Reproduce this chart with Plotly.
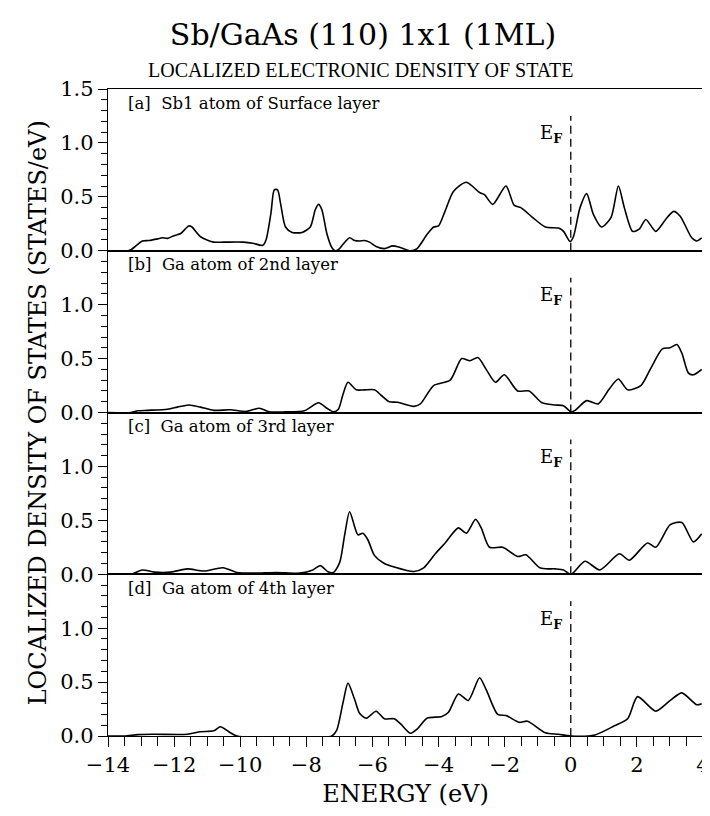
import plotly.graph_objects as go
from plotly.subplots import make_subplots

# ---------------- data ----------------
energy_a = [-14.0, -13.4, -13.3, -12.96, -12.76, -12.5, -12.36, -12.2, -12.0, -11.8, -11.56, -11.46,
            -11.2, -10.8, -10.5, -9.9, -9.62, -9.32, -9.22, -9.07, -8.97, -8.87, -8.78, -8.63,
            -8.43, -8.13, -7.88, -7.73, -7.63, -7.53, -7.38, -7.23, -7.13, -7.03, -6.89, -6.69,
            -6.54, -6.39, -6.24, -6.09, -5.89, -5.64, -5.39, -5.2, -4.85, -4.65, -4.35, -4.15,
            -4.0, -3.8, -3.55, -3.16, -2.76, -2.61, -2.36, -1.96, -1.71, -1.51, -1.16, -0.77,
            -0.37, -0.22, -0.02, 0.08, 0.28, 0.48, 0.68, 0.93, 1.22, 1.44, 1.62, 1.87, 2.07,
            2.27, 2.57, 2.87, 3.11, 3.31, 3.66, 3.81, 3.96]
dos_a = [0.0, 0.0, 0.01, 0.09, 0.095, 0.11, 0.12, 0.115, 0.14, 0.16, 0.23, 0.22,
         0.13, 0.08, 0.08, 0.08, 0.07, 0.05, 0.1, 0.35, 0.565, 0.565, 0.44, 0.22,
         0.17, 0.17, 0.22, 0.38, 0.43, 0.38, 0.16, 0.03, 0.0, 0.01, 0.06, 0.12,
         0.095, 0.09, 0.095, 0.08, 0.04, 0.02, 0.045, 0.035, 0.0, 0.02, 0.15, 0.22,
         0.23, 0.37, 0.55, 0.635, 0.54, 0.52, 0.43, 0.6, 0.42, 0.40, 0.31, 0.22,
         0.21, 0.18, 0.086, 0.13, 0.40, 0.53, 0.34, 0.22, 0.31, 0.60, 0.40, 0.18, 0.2,
         0.29, 0.18, 0.29, 0.365, 0.32, 0.12, 0.09, 0.12]

energy_b = [-14.0, -13.3, -13.1, -12.8, -12.2, -11.9, -11.56, -11.2, -10.8, -10.3, -9.82, -9.42,
            -9.13, -8.63, -8.06, -7.63, -7.38, -7.18, -7.03, -6.89, -6.74, -6.49, -6.24, -5.94,
            -5.74, -5.49, -5.24, -4.75, -4.55, -4.15, -3.65, -3.3, -3.05, -2.81, -2.56, -2.28,
            -2.01, -1.61, -1.26, -0.87, -0.47, -0.22, 0.01, 0.13, 0.48, 0.83, 1.17, 1.44,
            1.72, 2.12, 2.42, 2.77, 3.0, 3.21, 3.36, 3.56, 3.71, 3.96]
dos_b = [0.0, 0.0, 0.016, 0.02, 0.03, 0.05, 0.07, 0.05, 0.02, 0.025, 0.01, 0.04,
         0.006, 0.006, 0.016, 0.09, 0.04, 0.006, 0.03, 0.17, 0.28, 0.21, 0.21, 0.21,
         0.16, 0.10, 0.095, 0.057, 0.08, 0.25, 0.30, 0.50, 0.48, 0.51, 0.40, 0.28,
         0.35, 0.20, 0.20, 0.09, 0.07, 0.063, 0.006, 0.02, 0.11, 0.08, 0.22, 0.31,
         0.21, 0.25, 0.41, 0.59, 0.60, 0.63, 0.55, 0.365, 0.35, 0.40]

energy_c = [-14.0, -13.3, -12.96, -12.6, -12.1, -11.6, -11.1, -10.52, -10.1, -9.6, -8.9, -8.2,
            -7.8, -7.58, -7.33, -7.18, -6.99, -6.84, -6.69, -6.44, -6.29, -6.14, -5.94, -5.64,
            -5.34, -4.75, -4.45, -4.1, -3.8, -3.4, -3.16, -2.88, -2.71, -2.46, -2.06, -1.61,
            -1.36, -0.92, -0.47, -0.22, 0.01, 0.43, 0.88, 1.47, 1.77, 2.32, 2.57, 3.01,
            3.36, 3.71, 3.96]
dos_c = [0.0, 0.0, 0.04, 0.02, 0.02, 0.05, 0.03, 0.06, 0.016, 0.01, 0.016, 0.01,
         0.04, 0.08, 0.02, 0.016, 0.11, 0.365, 0.58, 0.365, 0.38, 0.32, 0.175, 0.10,
         0.067, 0.025, 0.06, 0.19, 0.29, 0.43, 0.38, 0.51, 0.43, 0.25, 0.25, 0.165,
         0.18, 0.057, 0.05, 0.04, 0.0, 0.12, 0.04, 0.19, 0.13, 0.29, 0.25, 0.46,
         0.48, 0.30, 0.375]

energy_d = [-14.0, -13.5, -13.1, -12.6, -11.6, -11.2, -10.8, -10.6, -10.3, -10.1, -7.23, -7.08,
            -6.89, -6.74, -6.54, -6.39, -6.19, -5.89, -5.64, -5.34, -5.14, -4.85, -4.65, -4.35,
            -3.9, -3.7, -3.4, -3.1, -2.76, -2.56, -2.21, -1.96, -1.56, -1.31, -0.77, -0.37,
            0.01, 0.73, 1.32, 1.72, 2.02, 2.57, 3.01, 3.36, 3.81, 3.96]
dos_d = [0.0, 0.0, 0.013, 0.016, 0.016, 0.04, 0.048, 0.086, 0.03, 0.0, 0.0, 0.054,
         0.31, 0.49, 0.34, 0.21, 0.165, 0.23, 0.16, 0.16, 0.11, 0.025, 0.063, 0.165,
         0.18, 0.22, 0.39, 0.33, 0.54, 0.43, 0.20, 0.19, 0.127, 0.137, 0.03, 0.016,
         0.0, 0.01, 0.095, 0.16, 0.365, 0.23, 0.33, 0.40, 0.29, 0.30]

panel_labels = ["[a]  Sb1 atom of Surface layer",
                "[b]  Ga atom of 2nd layer",
                "[c]  Ga atom of 3rd layer",
                "[d]  Ga atom of 4th layer"]
x_tick_values = [-14, -12, -10, -8, -6, -4, -2, 0, 2, 4]
y_tick_values_top = [0.0, 0.5, 1.0, 1.5]
y_tick_values = [0.0, 0.5, 1.0]
fermi_energy = 0.0

series = [(energy_a, dos_a), (energy_b, dos_b), (energy_c, dos_c), (energy_d, dos_d)]

SERIF = "DejaVu Serif"
NB = "\u00a0"
L, R = 100, 8
PW = 710 - L - R

fig = make_subplots(rows=4, cols=1, shared_xaxes=True, vertical_spacing=0)

for i, (ex, dv) in enumerate(series, start=1):
    fig.add_trace(go.Scatter(x=ex, y=dv, mode="lines",
                             line=dict(color="black", width=1.6, shape="spline", smoothing=0.7),
                             showlegend=False, hoverinfo="skip"), row=i, col=1)
    # Fermi level dashed line
    fig.add_shape(type="line", x0=fermi_energy, x1=fermi_energy, y0=0, y1=1.25,
                  line=dict(color="black", width=1.3, dash="8px,5px"), row=i, col=1)
    xr = "x" if i == 1 else f"x{i}"
    yr = "y" if i == 1 else f"y{i}"
    fig.add_annotation(x=fermi_energy - 0.2, y=1.08, xref=xr, yref=yr,
                       text="E<sub><b>F</b></sub>", showarrow=False, xanchor="right",
                       yanchor="middle", font=dict(family=SERIF, size=18, color="black"))
    fig.add_annotation(x=-13.45, y=1.37, xref=xr, yref=yr,
                       text=panel_labels[i - 1].replace(" ", NB),
                       showarrow=False, xanchor="left", yanchor="middle",
                       font=dict(family=SERIF, size=16.5, color="black"))
    tv = y_tick_values_top if i == 1 else y_tick_values
    fig.update_yaxes(row=i, col=1, range=[0, 1.5],
                     tickvals=tv, ticktext=[f"{v:.1f}" for v in tv],
                     ticks="outside", ticklen=9, tickwidth=1.3, tickcolor="black",
                     minor=dict(dtick=0.1, tick0=0, ticks="outside", ticklen=6,
                                tickwidth=1, tickcolor="black"),
                     showline=True, linecolor="black", linewidth=1.4, mirror=True,
                     showgrid=False, zeroline=False,
                     tickfont=dict(family=SERIF, size=21, color="black"))
    fig.update_xaxes(row=i, col=1, range=[-14, 4],
                     showline=True, linecolor="black", linewidth=1.4, mirror=True,
                     showgrid=False, zeroline=False)

fig.update_xaxes(row=4, col=1, tickvals=x_tick_values,
                 ticktext=[("\u2212" + str(-v)) if v < 0 else str(v) for v in x_tick_values],
                 ticks="outside", ticklen=10, tickwidth=1.3, tickcolor="black",
                 minor=dict(dtick=0.5, tick0=0, ticks="outside", ticklen=9,
                            tickwidth=1, tickcolor="black"),
                 ticklabeloverflow="allow",
                 tickfont=dict(family=SERIF, size=21, color="black"),
                 title=dict(text="ENERGY (eV)", standoff=8,
                            font=dict(family=SERIF, size=24, color="black")))
for i in range(1, 4):
    fig.update_xaxes(row=i, col=1, showticklabels=False, ticks="")

# subtitle centred on the figure (x = 355 px)
fig.add_annotation(x=(355 - L) / PW, y=(728 - 62) / 647, xref="paper", yref="paper",
                   text="LOCALIZED ELECTRONIC DENSITY OF STATE", showarrow=False,
                   xanchor="center", yanchor="middle",
                   font=dict(family="Liberation Serif", size=20, color="black"))
# y-axis title
fig.add_annotation(x=(29 - L) / PW, y=0.5, xref="paper", yref="paper",
                   text="LOCALIZED DENSITY OF STATES (STATES/eV)", showarrow=False,
                   textangle=-90, xanchor="center", yanchor="middle",
                   font=dict(family=SERIF, size=24, color="black"))

fig.update_layout(
    width=710, height=816,
    margin=dict(l=L, r=R, t=81, b=88),
    paper_bgcolor="white", plot_bgcolor="white",
    title=dict(text="Sb/GaAs (110) 1x1 (1ML)", x=0.5, xref="container", xanchor="center",
               y=1 - 26 / 816, yref="container", yanchor="middle",
               font=dict(family=SERIF, size=30, color="black")),
)

fig.write_html("out.html")
